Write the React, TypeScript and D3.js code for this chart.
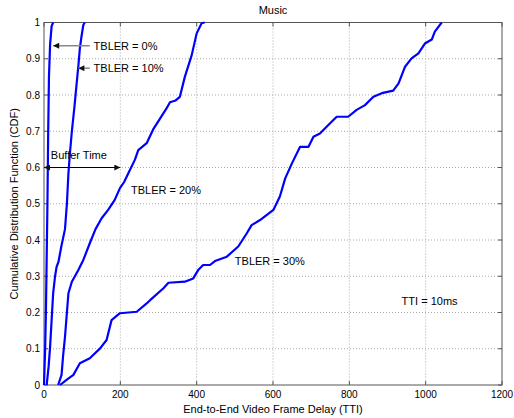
import React, { useRef, useEffect } from "react";
import * as d3 from "d3";

// delay (TTI) / CDF pairs
const tbler0: [number, number][] = [
  [0, 0], [3, 0.1], [5, 0.2], [7, 0.35], [9, 0.5], [11, 0.7], [13, 0.85], [16, 0.94], [20, 0.99], [24, 1],
];
const tbler10: [number, number][] = [
  [7, 0], [12, 0.05], [16, 0.106], [20, 0.18], [24, 0.253], [29, 0.3], [33, 0.326], [38, 0.34], [45, 0.38],
  [55, 0.43], [60, 0.5], [64, 0.584], [68, 0.64], [73, 0.7], [80, 0.77], [86, 0.837], [90, 0.88], [94, 0.929],
  [98, 0.96], [103, 0.993], [107, 1],
];
const tbler20: [number, number][] = [
  [37, 0], [46, 0.028], [50, 0.08], [55, 0.133], [60, 0.2], [64, 0.253], [73, 0.285], [90, 0.317], [103, 0.345],
  [120, 0.391], [135, 0.43], [151, 0.46], [168, 0.483], [185, 0.51], [199, 0.543], [210, 0.56], [221, 0.584],
  [238, 0.621], [247, 0.648], [269, 0.667], [286, 0.705], [304, 0.735], [321, 0.763], [330, 0.78], [345, 0.785],
  [356, 0.795], [369, 0.85], [387, 0.91], [400, 0.97], [413, 0.998], [421, 1],
];
const tbler30: [number, number][] = [
  [42, 0], [60, 0.015], [77, 0.028], [94, 0.06], [120, 0.074], [147, 0.101], [164, 0.124], [177, 0.179],
  [199, 0.198], [243, 0.202], [269, 0.225], [278, 0.234], [313, 0.267], [326, 0.282], [369, 0.285], [391, 0.294],
  [404, 0.317], [417, 0.331], [435, 0.331], [448, 0.342], [479, 0.354], [509, 0.382], [531, 0.418], [544, 0.441],
  [566, 0.455], [601, 0.483], [618, 0.52], [632, 0.57], [649, 0.61], [671, 0.657], [693, 0.657], [706, 0.685],
  [723, 0.694], [745, 0.717], [767, 0.74], [797, 0.74], [819, 0.759], [841, 0.772], [863, 0.795], [885, 0.805],
  [915, 0.812], [929, 0.832], [946, 0.878], [963, 0.901], [981, 0.915], [998, 0.942], [1016, 0.953],
  [1024, 0.975], [1042, 1],
];

const xTicks = [0, 200, 400, 600, 800, 1000, 1200];
const yTicks = [0, 0.1, 0.2, 0.3, 0.4, 0.5, 0.6, 0.7, 0.8, 0.9, 1];

const FONT = "Arial, 'Liberation Sans', sans-serif";

const App: React.FC = () => {
  const ref = useRef<SVGSVGElement>(null);

  useEffect(() => {
    if (!ref.current) return;
    const svg = d3.select(ref.current);
    svg.selectAll("*").remove();

    const left = 44, right = 502, top = 22.5, bottom = 385;
    const x = d3.scaleLinear().domain([0, 1200]).range([left, right]);
    const y = d3.scaleLinear().domain([0, 1]).range([bottom, top]);

    // arrow markers
    const defs = svg.append("defs");
    defs.append("marker")
      .attr("id", "arr")
      .attr("viewBox", "0 0 10 10")
      .attr("refX", 10)
      .attr("refY", 5)
      .attr("markerWidth", 7)
      .attr("markerHeight", 6)
      .attr("markerUnits", "userSpaceOnUse")
      .attr("orient", "auto-start-reverse")
      .append("path")
      .attr("d", "M0,0 L10,5 L0,10 z")
      .attr("fill", "#111");

    // grid
    const grid = svg.append("g").attr("stroke", "#aaa").attr("stroke-width", 1).attr("stroke-dasharray", "1,2");
    grid.selectAll(".gx").data(xTicks.slice(1, -1)).enter().append("line")
      .attr("x1", (d) => x(d)).attr("x2", (d) => x(d)).attr("y1", top).attr("y2", bottom);
    grid.selectAll(".gy").data(yTicks.slice(1, -1)).enter().append("line")
      .attr("x1", left).attr("x2", right).attr("y1", (d) => y(d)).attr("y2", (d) => y(d));

    // box + inner ticks
    const ax = svg.append("g").attr("stroke", "#555").attr("stroke-width", 1);
    ax.append("rect").attr("x", left).attr("y", top).attr("width", right - left).attr("height", bottom - top).attr("fill", "none");
    xTicks.forEach((t) => {
      ax.append("line").attr("x1", x(t)).attr("x2", x(t)).attr("y1", bottom).attr("y2", bottom - 4);
      ax.append("line").attr("x1", x(t)).attr("x2", x(t)).attr("y1", top).attr("y2", top + 4);
    });
    yTicks.forEach((t) => {
      ax.append("line").attr("x1", left).attr("x2", left + 4).attr("y1", y(t)).attr("y2", y(t));
      ax.append("line").attr("x1", right).attr("x2", right - 4).attr("y1", y(t)).attr("y2", y(t));
    });

    // tick labels
    svg.append("g").selectAll("text").data(xTicks).enter().append("text")
      .attr("x", (d) => x(d)).attr("y", bottom + 13)
      .attr("text-anchor", "middle").attr("font-size", 10).attr("font-family", FONT)
      .text((d) => d);
    svg.append("g").selectAll("text").data(yTicks).enter().append("text")
      .attr("x", left - 4).attr("y", (d) => y(d) + 3.5)
      .attr("text-anchor", "end").attr("font-size", 10).attr("font-family", FONT)
      .text((d) => d3.format("~g")(d));

    // curves
    const line = d3.line<[number, number]>().x((d) => x(d[0])).y((d) => y(d[1]));
    [tbler0, tbler10, tbler20, tbler30].forEach((s) => {
      svg.append("path").datum(s).attr("d", line).attr("fill", "none")
        .attr("stroke", "#0000ff").attr("stroke-width", 2.2).attr("stroke-linejoin", "round");
    });

    // annotations
    svg.append("line").attr("x1", x(120)).attr("x2", x(24)).attr("y1", y(0.936)).attr("y2", y(0.936))
      .attr("stroke", "#888").attr("stroke-width", 1.5).attr("marker-end", "url(#arr)");
    svg.append("line").attr("x1", x(120)).attr("x2", x(90)).attr("y1", y(0.874)).attr("y2", y(0.874))
      .attr("stroke", "#888").attr("stroke-width", 1.5).attr("marker-end", "url(#arr)");
    svg.append("line").attr("x1", x(0)).attr("x2", x(200)).attr("y1", y(0.6)).attr("y2", y(0.6))
      .attr("stroke", "#000").attr("stroke-width", 1)
      .attr("marker-start", "url(#arr)").attr("marker-end", "url(#arr)");

    const labels: [string, number, number][] = [
      ["TBLER = 0%", 130, 0.925],
      ["TBLER = 10%", 130, 0.863],
      ["Buffer Time", 18, 0.623],
      ["TBLER = 20%", 228, 0.527],
      ["TBLER = 30%", 500, 0.332],
      ["TTI = 10ms", 937, 0.221],
    ];
    svg.append("g").selectAll("text").data(labels).enter().append("text")
      .attr("x", (d) => x(d[1])).attr("y", (d) => y(d[2]))
      .attr("font-size", 11).attr("font-family", FONT)
      .text((d) => d[0]);

    // titles
    svg.append("text").attr("x", (left + right) / 2).attr("y", 14)
      .attr("text-anchor", "middle").attr("font-size", 11).attr("font-family", FONT).text("Music");
    svg.append("text").attr("x", (left + right) / 2).attr("y", 413)
      .attr("text-anchor", "middle").attr("font-size", 11).attr("font-family", FONT)
      .text("End-to-End Video Frame Delay (TTI)");
    svg.append("text").attr("transform", `translate(18,${(top + bottom) / 2}) rotate(-90)`)
      .attr("text-anchor", "middle").attr("font-size", 11).attr("font-family", FONT)
      .text("Cumulative Distribution Function (CDF)");
  }, []);

  return (
    <svg ref={ref} width={514} height={418}
      style={{ position: "absolute", left: 0, top: 0, background: "#fff" }} />
  );
};

export default App;
